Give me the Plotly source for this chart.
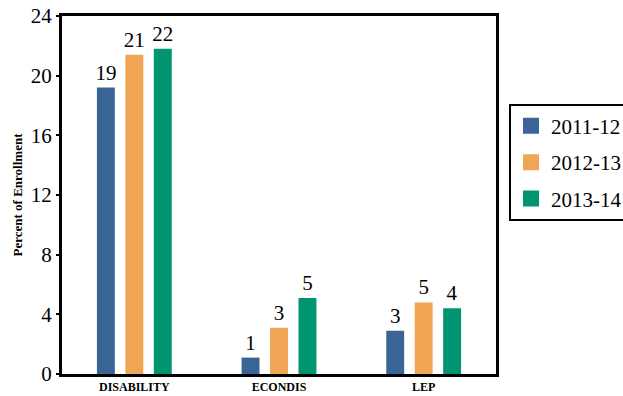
import plotly.graph_objects as go

# Data
categories = ["DISABILITY", "ECONDIS", "LEP"]
years = ["2011-12", "2012-13", "2013-14"]
vals_2011 = [19.2, 1.1, 2.9]
vals_2012 = [21.4, 3.1, 4.8]
vals_2013 = [21.8, 5.1, 4.4]
colors = ["#3b6496", "#f0a555", "#009471"]

SERIF = "Times New Roman, Liberation Serif, serif"

fig = go.Figure()
for name, vals, col in zip(years, [vals_2011, vals_2012, vals_2013], colors):
    fig.add_trace(go.Bar(
        x=categories, y=vals, name=name, showlegend=False,
        marker=dict(color=col, line=dict(width=0)),
        text=[f"{v:.0f}" for v in vals],
        textposition="outside", cliponaxis=False, constraintext="none",
        textfont=dict(family=SERIF, size=21, color="black"),
    ))
    # legend-only entry, to get bigger square swatches
    fig.add_trace(go.Scatter(
        x=[None], y=[None], name=name, mode="markers", legendgroup=name,
        marker=dict(symbol="square", size=16, color=col),
    ))

fig.update_layout(
    width=623, height=396,
    margin=dict(l=62, r=127, t=16, b=22, autoexpand=False),
    paper_bgcolor="white", plot_bgcolor="white",
    barmode="group", bargap=0.41, bargroupgap=0.37,
    font=dict(family=SERIF, color="black"),
    showlegend=True,
    legend=dict(
        x=1.03, y=0.755, xanchor="left", yanchor="top",
        bordercolor="black", borderwidth=2,
        font=dict(size=21, family=SERIF),
        itemsizing="trace", tracegroupgap=6,
    ),
)
fig.update_xaxes(
    showline=True, linecolor="black", linewidth=3, mirror=True,
    tickfont=dict(size=12, family=SERIF, weight="bold"),
    ticks="", showgrid=False, automargin=False,
)
fig.update_yaxes(
    range=[0, 24], tickvals=[0, 4, 8, 12, 16, 20, 24],
    showline=True, linecolor="black", linewidth=3, mirror=True,
    ticks="outside", ticklen=3, tickwidth=2, tickcolor="black",
    tickfont=dict(size=21, family=SERIF),
    showgrid=False, zeroline=False, automargin=False,
    title=dict(text="Percent of Enrollment", standoff=6,
               font=dict(size=13, family=SERIF, weight="bold")),
)

fig.write_html(
    "out.html",
    config={"displayModeBar": False},
    post_script="document.body.style.margin='0';document.body.style.overflow='hidden';",
)
